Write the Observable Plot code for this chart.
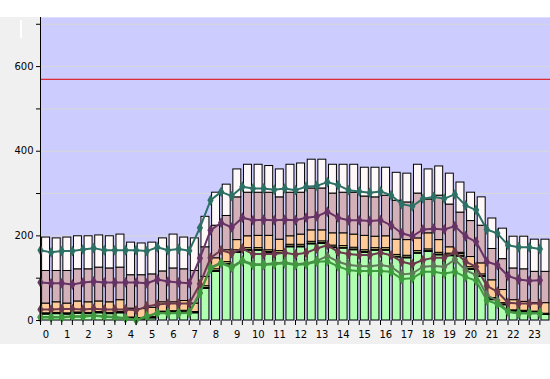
<!DOCTYPE html>
<html><head><meta charset="utf-8">
<script src="https://cdn.jsdelivr.net/npm/d3@7"></script>
<script src="https://cdn.jsdelivr.net/npm/@observablehq/plot@0.6"></script>
<style>
body{margin:0;background:#fff;width:550px;height:379px;overflow:hidden;position:relative;font-family:"DejaVu Sans",sans-serif}
#chart{position:absolute;left:0;top:17px}
#mark{position:absolute;left:20px;top:20px;width:2px;height:18px;background:#fff}
</style></head><body>
<div id="chart"></div><div id="mark"></div>
<script>
// 48 half-hour slots, labelled by hour
const hours = ["0","1","2","3","4","5","6","7","8","9","10","11","12","13","14","15","16","17","18","19","20","21","22","23"];
const yTicks = [0,100,200,300,400,500,600,700];
const yLabels = [0,200,400,600];
const limit = [570];

// stacked bar segment tops
const greenTop  = [14,15,14,16,15,17,15,17,4,3,5,18,19,20,17,75,115,132,160,165,165,160,158,173,173,180,181,171,170,166,160,165,165,149,147,158,162,154,152,151,120,103,48,36,21,20,18,13];
const blackBand = [3,3,3,3,3,3,3,3,3,3,3,3,3,3,3,2,2,2,2,2,2,2,2,2,2,2,2,2,2,2,2,2,2,2,2,2,2,2,2,2,2,2,2,2,3,3,3,3];
const yellowBand= [0,0,0,0,0,0,0,0,0,0,0,0,0,0,0,4,4,4,4,4,4,4,4,4,4,4,4,4,4,4,4,4,4,4,4,4,4,4,4,4,4,4,3,3,0,0,0,0];
const orangeTop = [40,43,40,45,43,45,43,48,28,27,30,43,43,46,40,103,147,166,190,199,200,200,191,199,203,213,213,206,206,203,200,198,199,191,190,194,206,190,173,160,150,135,95,72,48,44,41,41];
const mauveTop  = [117,117,117,121,121,125,123,125,107,107,109,116,123,121,117,173,224,247,291,302,302,302,291,302,302,312,312,300,302,302,293,291,295,283,279,300,286,295,274,255,235,224,169,145,123,121,115,115];
const whiteTop  = [196,194,196,199,199,201,199,203,184,182,184,194,203,196,194,245,302,321,357,368,368,365,357,368,371,380,380,368,368,368,361,361,361,349,347,368,357,364,347,326,302,291,241,217,198,198,191,191];

// line series
const tealLine   = [166,161,164,164,168,171,166,166,166,166,164,173,166,169,165,219,284,304,294,316,312,312,309,312,308,316,318,327,320,308,305,302,305,296,275,270,288,292,288,298,272,261,215,206,178,173,173,169];
const purpleLine = [90,88,88,85,90,92,90,90,90,90,88,97,92,90,88,147,213,231,220,243,237,238,237,238,237,243,246,257,243,237,237,235,237,225,206,199,215,217,215,223,199,186,139,131,105,97,94,95];
const brownLine  = [26,26,27,27,26,28,26,26,26,24,33,38,40,40,40,86,148,166,159,170,157,157,157,160,156,160,170,178,162,157,155,155,160,154,139,133,143,148,148,162,139,127,82,68,42,40,40,40];
const oliveLine  = [8,8,8,10,10,12,10,8,6,2,10,18,18,18,19,66,125,137,127,142,133,133,135,137,133,135,141,152,139,131,129,128,131,127,109,111,127,129,127,144,119,107,60,47,21,17,17,17];
const greenLine  = [7,7,7,9,9,11,9,7,5,1,9,17,17,17,18,64,123,135,125,140,131,131,133,135,131,133,139,140,128,119,117,117,117,115,98,100,115,115,111,115,103,94,48,39,21,17,17,17];

const segColors = {green:"#b0ffb0", black:"#000000", yellow:"#ffffa0", orange:"#ffcc99", mauve:"#d4b0b8", white:"#fff8f8"};
const segs = [];
greenTop.forEach((g, i) => {
  const k = g + blackBand[i];
  const yl = k + yellowBand[i];
  const parts = [["green",0,g],["black",g,k]];
  if (yellowBand[i] > 0) parts.push(["yellow",k,yl]);
  parts.push(["orange",yl,orangeTop[i]],["mauve",orangeTop[i],mauveTop[i]],["white",mauveTop[i],whiteTop[i]]);
  for (const [c,a,b] of parts) segs.push({i, c, a, b});
});

const series = [
  {name:"teal", color:"#2d7066", values:tealLine},
  {name:"purple", color:"#663366", values:purpleLine},
  {name:"brown", color:"#6b3a4c", values:brownLine},
  {name:"olive", color:"#62785a", values:oliveLine},
  {name:"green", color:"#3f9a3f", values:greenLine}
];

const slotTicks = d3.range(0, 48);
const labelPos = hours.map((h, j) => j*2 + 0.5);

const chart = Plot.plot({
  width: 550, height: 327,
  marginLeft: 40, marginRight: 0, marginTop: 0, marginBottom: 24,
  style: {background:"#f0f0f0", fontFamily:"DejaVu Sans", fontSize:"10px", color:"#000"},
  x: {domain:[0,48], axis:null},
  y: {domain:[0,716], axis:null},
  marks: [
    Plot.frame({fill:"#ccccff", stroke:null}),
    Plot.gridY(yTicks.slice(1), {stroke:"#d8d8d8", strokeOpacity:1, strokeWidth:1}),
    Plot.ruleY(limit, {stroke:"#dd0000", strokeWidth:1}),
    Plot.rect(segs, {x1: d => d.i + 0.15, x2: d => d.i + 0.9, y1:"a", y2:"b", fill: d => segColors[d.c], stroke:"#000", strokeWidth:1}),
    ...series.map(s => Plot.line(s.values.map((v,i)=>({i,v})), {x:"i", y:"v", stroke:s.color, strokeWidth:2})),
    ...series.map(s => Plot.dot(s.values.map((v,i)=>({i,v})), {x:"i", y:"v", symbol:"diamond", r:3.3, fill:s.color, stroke:null})),
    Plot.ruleX([0], {y1:0, y2:716, stroke:"#000", strokeWidth:1}),
    Plot.axisY(yTicks, {tickSize:4, tickPadding:3, tickFormat: d => yLabels.includes(d) ? String(d) : "", stroke:"#000", label:null}),
    Plot.axisX(slotTicks, {tickSize:5, tickFormat: () => "", stroke:"#000", label:null}),
    Plot.axisX(labelPos, {tickSize:0, tickPadding:10, tickFormat: d => hours[(d-0.5)/2], label:null})
  ]
});
document.getElementById("chart").appendChild(chart);
</script>
</body></html>
